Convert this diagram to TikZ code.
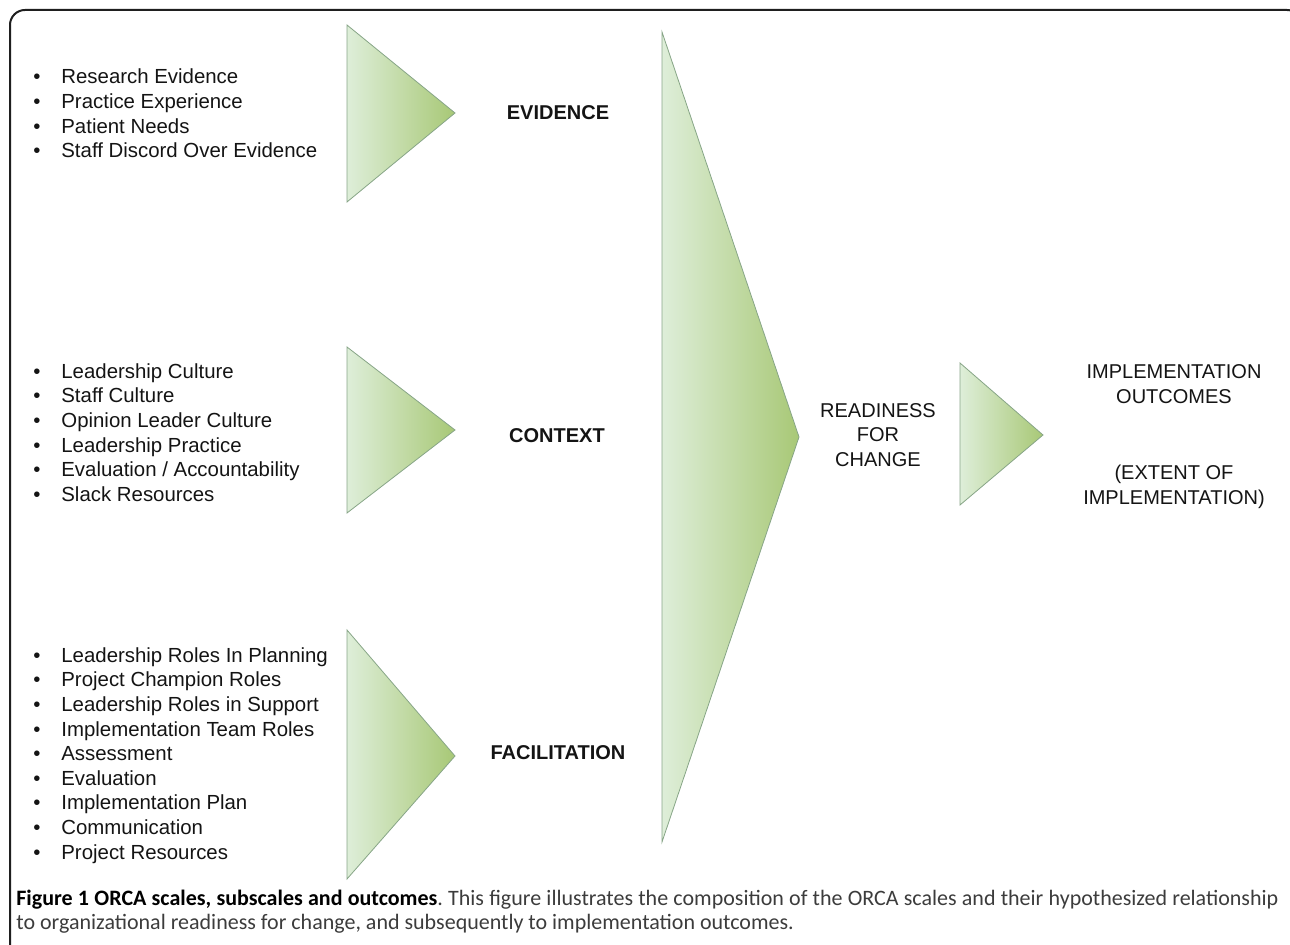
\documentclass[tikz,border=0pt]{standalone}
\usepackage{fontspec}
\setmainfont{Liberation Sans}
\newfontfamily\capfont{Carlito}
\usepackage{tikz}
\usetikzlibrary{positioning}

\definecolor{wedgelight}{RGB}{222,238,217}
\definecolor{wedgedark}{RGB}{168,200,118}
\definecolor{wedgeedge}{RGB}{135,165,135}
\definecolor{inktext}{RGB}{20,20,20}
\definecolor{captext}{RGB}{60,60,60}

\newcommand{\itm}[1]{\makebox[14pt][l]{\textbullet}#1}

\tikzset{
  frame/.style={draw=black!88, line width=1pt, rounded corners=7.5pt},
  wedge/.style={draw=wedgeedge, line width=0.4pt, left color=wedgelight, right color=wedgedark},
  items/.style={anchor=west, inner sep=0pt, align=left, text=inktext,
    font=\fontsize{10.2}{12.3}\selectfont},
  head/.style={inner sep=0pt, text=inktext, font=\fontsize{10}{12.5}\selectfont\bfseries},
  lbl/.style={inner sep=0pt, align=center, text=inktext, font=\fontsize{10}{12.3}\selectfont}
}

\begin{document}
\begin{tikzpicture}[x=0.5pt, y=-0.5pt]
  \useasboundingbox (0,0) rectangle (1290,945);
  \clip (0,0) rectangle (1290,945);
  \draw [frame] (10,980) -- (10,10) -- (1302,10) -- (1302,980);

  % the three scales
  \draw [wedge] (347,25) -- (455,113) -- (347,202) -- cycle;
  \draw [wedge] (347,347) -- (455,430) -- (347,513) -- cycle;
  \draw [wedge] (347,630) -- (455,756) -- (347,879) -- cycle;
  % readiness and outcomes
  \draw [wedge] (662,32) -- (799,437) -- (662,842) -- cycle;
  \draw [wedge] (960,363) -- (1043,435) -- (960,505) -- cycle;

  \node (evlist) [items] at (33,113.5) {\itm{Research Evidence}\\ \itm{Practice Experience}\\
    \itm{Patient Needs}\\ \itm{Staff Discord Over Evidence}};
  \node (ctxlist) [items] at (33,432.5) {\itm{Leadership Culture}\\ \itm{Staff Culture}\\
    \itm{Opinion Leader Culture}\\ \itm{Leadership Practice}\\
    \itm{Evaluation / Accountability}\\ \itm{Slack Resources}};
  \node (faclist) [items] at (33,755.5) {\itm{Leadership Roles In Planning}\\ \itm{Project Champion Roles}\\
    \itm{Leadership Roles in Support}\\ \itm{Implementation Team Roles}\\
    \itm{Assessment}\\ \itm{Evaluation}\\ \itm{Implementation Plan}\\
    \itm{Communication}\\ \itm{Project Resources}};

  \node (evidence) [head] at (558,113) {EVIDENCE};
  \node (context) [head] at (557,436) {CONTEXT};
  \node (facilitation) [head] at (558,753) {FACILITATION};

  \node (readiness) [lbl] at (878,435) {READINESS\\FOR\\CHANGE};
  \node (outcomes) [lbl] at (1174,384) {IMPLEMENTATION\\OUTCOMES};
  \node (extent) [lbl] at (1174,487) {(EXTENT OF\\IMPLEMENTATION)};

  \node (caption) [anchor=north west, inner sep=0pt, text width=631pt, align=justify,
    text=captext, font=\capfont\fontsize{11}{12}\selectfont\frenchspacing] at (16,890)
    {\textcolor{black}{\bfseries Figure 1 ORCA scales, subscales and outcomes}. This figure illustrates the
    composition of the ORCA scales and their hypothesized relationship\linebreak
    to organizational readiness for change, and subsequently to implementation outcomes.\par};
\end{tikzpicture}
\end{document}
